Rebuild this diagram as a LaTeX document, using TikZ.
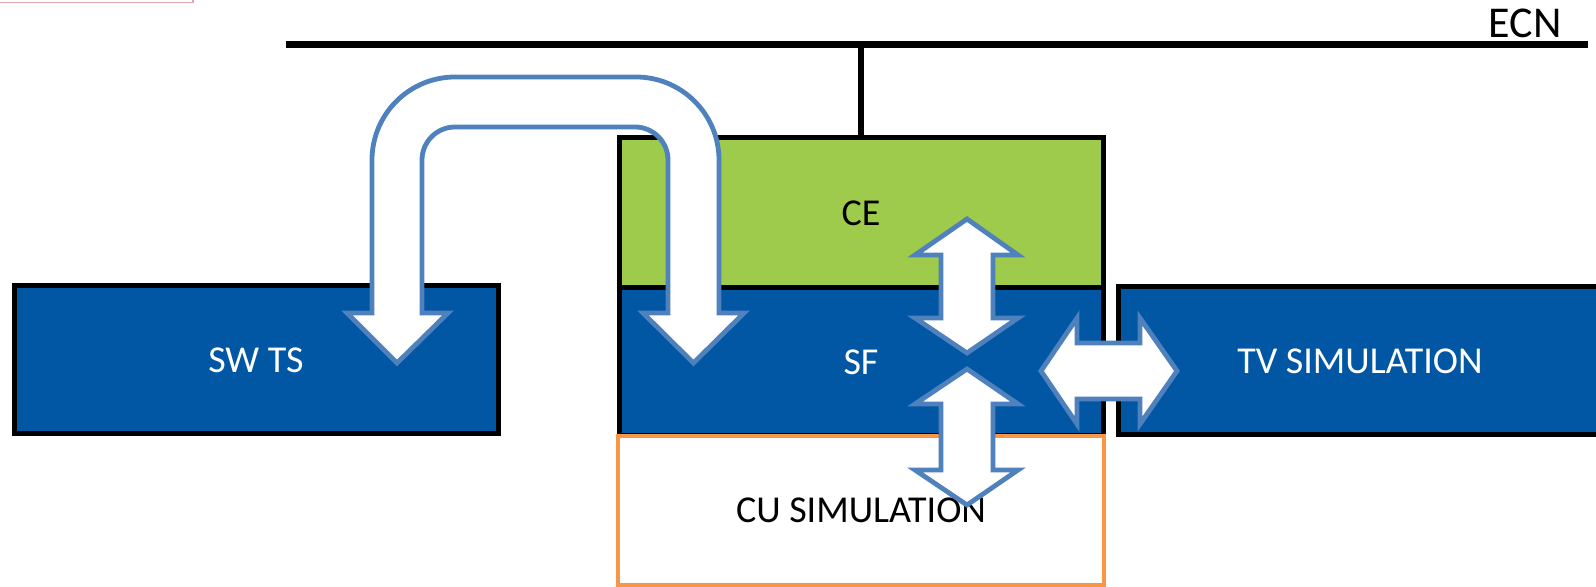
\documentclass[tikz,border=0pt]{standalone}
\usepackage{fontspec}
\setmainfont{Carlito}
\definecolor{boxblue}{HTML}{0157A4}
\definecolor{cegreen}{HTML}{9FCB4C}
\definecolor{cuorange}{HTML}{F79646}
\definecolor{arrblue}{HTML}{4F81BD}
\definecolor{pinkline}{HTML}{E2A8A8}
\begin{document}
\begin{tikzpicture}[x=0.5pt,y=-0.5pt,
  box/.style={draw=black,line width=2.5pt,inner sep=0pt,outer sep=0pt,
    minimum width=242pt,font=\fontsize{19pt}{22pt}\selectfont},
  bluebox/.style={box,fill=boxblue,text=white},
  blockarrow/.style={draw=arrblue,fill=white,line width=2.4pt,line join=miter},
  bus/.style={draw=black,line width=3.5pt},
  drop/.style={draw=black,line width=2.6pt}]
\useasboundingbox (0,0) rectangle (1596,587);
\clip (0,0) rectangle (1596,587);
% partial frame at top-left
\draw[pinkline,line width=0.8pt] (-10,-10) rectangle (193,2.5);
% boxes
\node[bluebox,minimum height=74pt] (swts) at (256,360) {SW TS};
\node[box,fill=cegreen,minimum height=75pt] (ce) at (861,213) {CE};
\node[bluebox,minimum height=74pt] (sf) at (861,362) {SF};
\node[bluebox,minimum height=74pt] (tv) at (1360,361) {TV SIMULATION};
\node[box,draw=cuorange,line width=2pt,fill=white,minimum width=243pt,minimum height=74.5pt] (cu) at (861,510.5) {CU SIMULATION};
% ECN bus
\coordinate (busL) at (286,45);
\coordinate (busR) at (1588,45);
\draw[bus] (busL) -- (busR);
\node[anchor=base,font=\fontsize{22pt}{26pt}\selectfont,inner sep=0pt] (ecn) at (1525,38) {ECN};
\draw[drop] (ce.north |- busL) -- (ce.north);
% U-turn arrow
\path[blockarrow]
  (347,313) -- (397,363) -- (448,313) -- (422,313) -- (422,160)
  .. controls (422,141.8) and (436.8,127) .. (455,127) -- (635,127)
  .. controls (653.2,127) and (668,141.8) .. (668,160) -- (668,313)
  -- (643,313) -- (693.5,363) -- (744,313) -- (719,313) -- (719,160)
  .. controls (719,114.2) and (681.8,77) .. (636,77) -- (455,77)
  .. controls (409.2,77) and (372,114.2) .. (372,160) -- (372,313) -- cycle;
% CE <-> SF
\path[blockarrow]
  (967,219) -- (1018,255) -- (993,255) -- (993,318) -- (1018,318) -- (967,353)
  -- (915,318) -- (941,318) -- (941,255) -- (915,255) -- cycle;
% SF <-> CU
\path[blockarrow]
  (967,369) -- (1018,404) -- (993,404) -- (993,470) -- (1018,470) -- (967,505)
  -- (915,470) -- (941,470) -- (941,404) -- (915,404) -- cycle;
% SF <-> TV
\path[blockarrow]
  (1041,371) -- (1077,318) -- (1077,343) -- (1140,343) -- (1140,318) -- (1177,371)
  -- (1140,424) -- (1140,399) -- (1077,399) -- (1077,424) -- cycle;
\end{tikzpicture}
\end{document}
